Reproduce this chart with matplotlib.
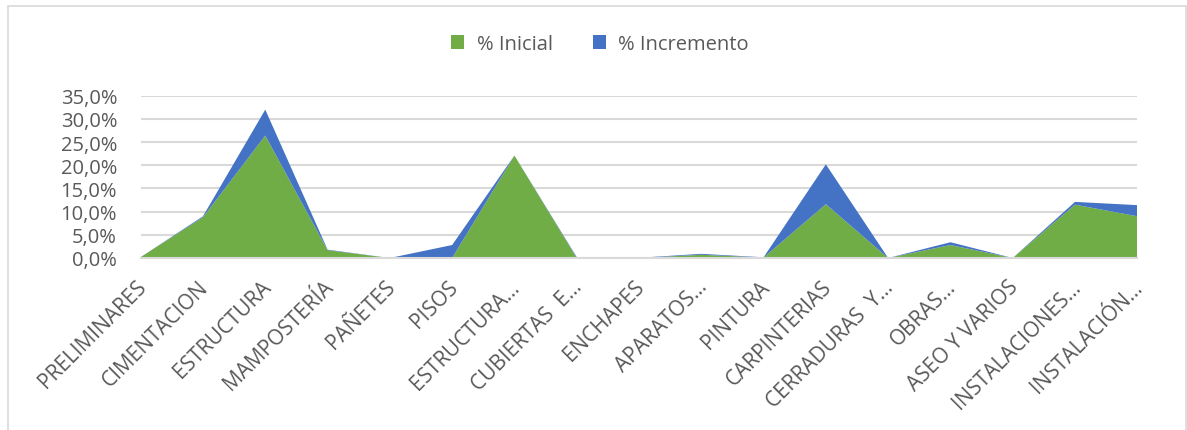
import matplotlib
matplotlib.use("Agg")
import matplotlib.pyplot as plt
from matplotlib.patches import Rectangle, Patch
from matplotlib.ticker import FuncFormatter, MultipleLocator
from matplotlib.transforms import ScaledTranslation

categories = ["PRELIMINARES", "CIMENTACION", "ESTRUCTURA", "MAMPOSTERÍA", "PAÑETES",
              "PISOS", "ESTRUCTURA…", "CUBIERTAS  E…", "ENCHAPES", "APARATOS…",
              "PINTURA", "CARPINTERIAS", "CERRADURAS  Y…", "OBRAS…", "ASEO Y VARIOS",
              "INSTALACIONES…", "INSTALACIÓN…"]
inicial = [0.2, 8.8, 26.4, 1.7, 0.0, 0.0, 22.1, 0.0, 0.0, 0.7, 0.1, 11.6, 0.0, 2.8, 0.0, 11.5, 9.0]
incremento = [0.0, 0.2, 5.6, 0.1, 0.0, 2.8, 0.0, 0.2, 0.05, 0.2, 0.05, 8.6, 0.0, 0.6, 0.0, 0.6, 2.4]
series_names = ["% Inicial", "% Incremento"]
colors = ["#70AD47", "#4472C4"]

plt.rcParams['font.family'] = ['Open Sans', 'DejaVu Sans']
W, H = 1187, 431
fig = plt.figure(figsize=(W / 100, H / 100), dpi=100)
ax = fig.add_axes([140.7 / W, 1 - 259 / H, (1137.3 - 140.7) / W, (259 - 96.7) / H])

x = list(range(len(categories)))
ax.stackplot(x, inicial, incremento, colors=colors, linewidth=0, zorder=3)

ax.set_xlim(0, len(categories) - 1)
ax.set_ylim(0, 35)
ax.yaxis.set_major_locator(MultipleLocator(5))
ax.yaxis.set_major_formatter(FuncFormatter(lambda v, p: f"{v:.1f}%".replace(".", ",")))
ax.grid(axis='y', color='#d9d9d9', linewidth=1.5, zorder=0)
ax.set_axisbelow(True)
for s in ['top', 'right', 'left']:
    ax.spines[s].set_visible(False)
ax.spines['bottom'].set_color('#d9d9d9')
ax.spines['bottom'].set_linewidth(1.5)
ax.spines['bottom'].set_zorder(4)
ax.tick_params(axis='both', length=0, colors='#595959')
ax.tick_params(axis='y', pad=17, labelsize=14.5)
ax.set_xticks(x)
ax.set_xticklabels(categories, rotation=45, ha='right', va='top', rotation_mode='anchor',
                   fontsize=15)
ax.tick_params(axis='x', pad=8)
offset = ScaledTranslation(-5 / 100, -7 / 100, fig.dpi_scale_trans)
for lbl in ax.get_xticklabels():
    lbl.set_transform(lbl.get_transform() + offset)

handles = [Patch(facecolor=c, edgecolor='none') for c in colors]
fig.legend(handles, series_names, loc='center', bbox_to_anchor=(600 / W, 1 - 45 / H),
           ncol=2, frameon=False, fontsize=14.5, labelcolor='#595959',
           handlelength=0.65, handleheight=0.65, handletextpad=0.6, columnspacing=2.0)

fig.patches.append(Rectangle((8 / W, -0.05), (1185.5 - 8) / W, 1.05 - 7 / H,
                             transform=fig.transFigure, fill=False,
                             edgecolor='#d9d9d9', linewidth=1.2))

fig.savefig("out.png", dpi=100)
